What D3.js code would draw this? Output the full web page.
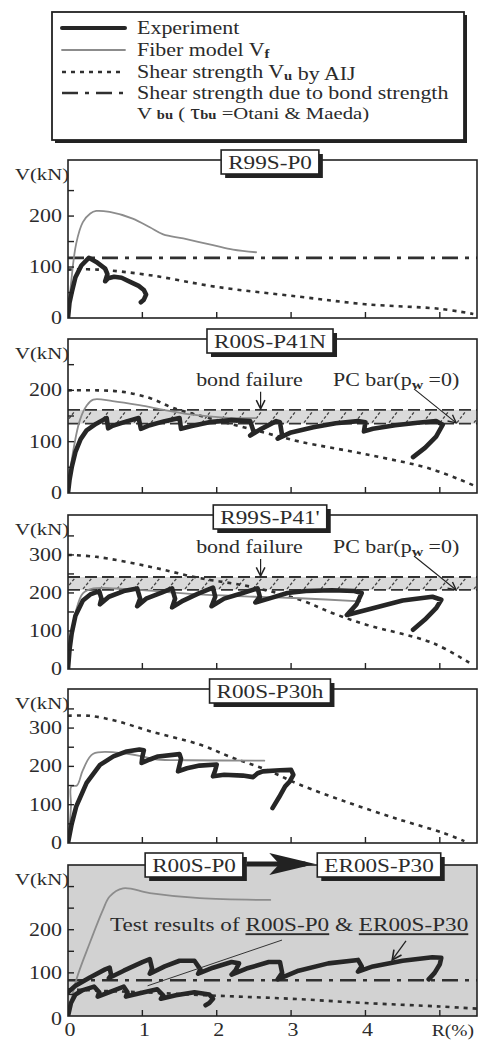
<!DOCTYPE html>
<html lang="en">
<head>
<meta charset="utf-8">
<title>Shear force - drift ratio</title>
<script src="https://cdn.jsdelivr.net/npm/d3@7"></script>
<style>
  body { margin: 0; background: #fff; }
  svg { display: block; }
  text { font-family: 'Liberation Serif', 'Times New Roman', serif; fill: #2b2b2b; }
</style>
</head>
<body>
<svg id="chart"></svg>
<script>
// ---- values: [R (%), V (kN)] ----
const rLabels = ['0', '1', '2', '3', '4', 'R(%)'];

// R99S-P0
const p1Exp   = [[0,0],[0.02,30],[0.05,50],[0.1,80],[0.18,103],[0.28,118],[0.38,110],[0.5,97],[0.53,86],[0.5,72],[0.54,78],[0.62,81],[0.72,79],[0.85,70],[0.95,63],[1.02,55],[1.05,46],[1.02,36],[0.98,31]];
const p1Fiber = [[0,0],[0.045,74],[0.11,146],[0.2,188],[0.3,205],[0.38,210],[0.56,208],[0.87,195],[1.1,178],[1.28,164],[1.55,156],[1.95,143],[2.22,134],[2.53,129]];
const p1Aij   = [[0,95],[0.4,95],[1.1,84],[2,61],[3.1,42],[4,27],[5,18],[5.45,8]];
const p1Bond  = [118];

// R00S-P41N
const p2Exp   = [[0,0],[0.02,25],[0.05,50],[0.1,80],[0.17,105],[0.25,122],[0.38,135],[0.52,146],[0.54,126],[0.6,131],[0.8,140],[0.95,146],[0.98,125],[1.1,132],[1.3,140],[1.5,146],[1.52,125],[1.65,130],[1.9,138],[2.2,142],[2.45,140],[2.5,118],[2.45,112],[2.6,125],[2.8,140],[2.85,138],[2.88,112],[2.82,106],[3.0,118],[3.3,128],[3.6,136],[3.9,140],[4.0,138],[3.98,120],[4.1,125],[4.4,132],[4.7,137],[4.95,140],[5.04,133],[4.95,110],[4.8,88],[4.64,70]];
const p2Fiber = [[0,0],[0.05,64],[0.16,142],[0.25,170],[0.34,182],[0.6,179],[0.96,171],[1.32,161],[1.7,152],[2.1,147],[2.53,146]];
const p2Aij   = [[0,200],[0.4,200],[0.74,197],[1.1,185],[1.41,166],[2,142],[2.68,116],[3.12,100],[4.02,75],[4.9,46],[5.5,12]];
const p2Band  = [135, 162];

// R99S-P41'
const p3Exp   = [[0,0],[0.02,50],[0.05,94],[0.1,140],[0.2,180],[0.3,196],[0.42,205],[0.45,185],[0.43,170],[0.55,190],[0.75,205],[0.93,212],[0.97,185],[0.93,165],[1.05,185],[1.25,200],[1.4,212],[1.44,185],[1.4,162],[1.55,180],[1.75,198],[1.95,214],[1.98,190],[1.93,165],[2.1,185],[2.35,200],[2.55,212],[2.58,190],[2.52,175],[2.7,185],[2.95,200],[3.2,205],[3.55,207],[3.85,205],[3.95,200],[3.88,170],[3.75,142],[4.1,160],[4.5,180],[4.9,190],[5.02,182],[4.95,160],[4.8,130],[4.64,103]];
const p3Fiber = [[0,0],[0.05,90],[0.11,155],[0.2,199],[0.34,212],[0.8,210],[1.3,203],[1.77,196],[2.5,190],[3.12,186],[3.93,178]];
const p3Aij   = [[0,300],[0.38,295],[1.1,269],[1.77,239],[2.44,217],[3.12,182],[3.57,146],[4.02,116],[4.91,68],[5.45,10]];
const p3Band  = [208, 242];

// R00S-P30h
const p4Exp   = [[0,0],[0.02,20],[0.05,50],[0.11,95],[0.25,157],[0.43,204],[0.61,226],[0.79,239],[0.96,244],[1.02,242],[1.0,225],[0.99,209],[1.1,218],[1.21,226],[1.5,232],[1.52,220],[1.48,187],[1.6,195],[1.77,202],[2.0,205],[1.98,190],[1.95,174],[2.1,178],[2.35,176],[2.49,172],[2.55,182],[2.62,187],[2.85,190],[3.0,191],[3.03,178],[2.98,160],[2.92,148],[2.84,120],[2.75,91]];
const p4Fiber = [[0,0],[0.04,95],[0.045,148],[0.12,150],[0.2,190],[0.34,233],[0.8,233],[1.0,226],[1.2,218],[1.6,216],[2.64,215]];
const p4Aij   = [[0,332],[0.29,332],[0.66,318],[1.1,292],[1.77,257],[2.22,222],[2.67,191],[3.12,152],[3.79,104],[4.46,61],[5.05,26],[5.33,5]];

// R00S-P0 -> ER00S-P30
const p5ExpR00S = [[0,0],[0.04,30],[0.1,50],[0.2,60],[0.35,68],[0.42,55],[0.4,45],[0.55,55],[0.75,68],[0.8,55],[0.78,45],[0.95,52],[1.2,62],[1.28,48],[1.25,40],[1.45,48],[1.7,55],[1.9,50],[1.95,40],[1.9,30],[1.85,25]];
const p5ExpER   = [[0,55],[0.1,70],[0.3,90],[0.5,108],[0.56,112],[0.58,95],[0.55,88],[0.75,105],[1.0,125],[1.1,132],[1.13,110],[1.1,98],[1.3,115],[1.5,128],[1.7,128],[1.78,108],[1.75,98],[1.95,112],[2.2,125],[2.3,122],[2.25,105],[2.2,96],[2.4,110],[2.7,125],[2.85,125],[2.88,100],[2.82,85],[3.1,105],[3.5,122],[3.9,130],[3.95,115],[3.9,103],[4.1,115],[4.5,128],[4.9,136],[5.02,135],[5.0,120],[4.93,100],[4.85,85]];
const p5Fiber = [[0,0],[0.11,83],[0.29,168],[0.47,246],[0.56,277],[0.74,296],[1.1,285],[1.77,273],[2.72,269]];
const p5Aij   = [[0,62],[0.5,58],[1,55],[2,47],[3,40],[4,30],[5,22],[5.5,17]];
const p5Bond  = [83];

// ---- layout ----
const W = 478, H = 1040;
const SX = 1.22;          // the scanned glyphs are wider than Times
const x = d3.scaleLinear().domain([0, 5.5]).range([68, 477]);

const panels = [
  { titles: ['R99S-P0'], top: 160, bottom: 318, ymax: 310, ylab: [0,100,200],
    exp: [p1Exp], fiber: p1Fiber, aij: p1Aij, bond: p1Bond },
  { titles: ['R00S-P41N'], top: 339, bottom: 493, ymax: 300, ylab: [0,100,200],
    exp: [p2Exp], fiber: p2Fiber, aij: p2Aij, band: p2Band, notes: true },
  { titles: ["R99S-P41'"], top: 515, bottom: 669, ymax: 405, ylab: [0,100,200,300],
    exp: [p3Exp], fiber: p3Fiber, aij: p3Aij, band: p3Band, notes: true },
  { titles: ['R00S-P30h'], top: 689, bottom: 843, ymax: 402, ylab: [0,100,200,300],
    exp: [p4Exp], fiber: p4Fiber, aij: p4Aij },
  { titles: ['R00S-P0', 'ER00S-P30'], top: 865, bottom: 1016, ymax: 350, ylab: [0,100,200],
    exp: [p5ExpR00S, p5ExpER], fiber: p5Fiber, aij: p5Aij, bond: p5Bond, shaded: true, last: true }
];

const svg = d3.select('#chart').attr('width', W).attr('height', H);
const defs = svg.append('defs');
defs.append('marker').attr('id', 'arrowOpen').attr('viewBox', '0 0 10 10')
  .attr('refX', 9).attr('refY', 5).attr('markerWidth', 9).attr('markerHeight', 9)
  .attr('orient', 'auto-start-reverse')
  .append('path').attr('d', 'M1,1 L9,5 L1,9').attr('fill', 'none')
  .attr('stroke', '#222').attr('stroke-width', 1.4);

const styles = {
  exp:   { stroke: '#262626', width: 4.6, dash: null },
  fiber: { stroke: '#8c8c8c', width: 1.8, dash: null },
  aij:   { stroke: '#303030', width: 2.6, dash: '4 5' },
  bond:  { stroke: '#303030', width: 2.6, dash: '16 7 4 7' }
};

function txt(parent, px, py, size, anchor) {
  return parent.append('text')
    .attr('transform', `translate(${px},${py}) scale(${SX},1)`)
    .attr('font-size', size)
    .attr('text-anchor', anchor || 'start');
}

function styled(sel, s) {
  return sel.attr('fill', 'none').attr('stroke', s.stroke).attr('stroke-width', s.width)
    .attr('stroke-dasharray', s.dash).attr('stroke-linejoin', 'round').attr('stroke-linecap', s.dash ? 'butt' : 'round');
}

// ---- legend ----
const leg = svg.append('g');
leg.append('rect').attr('x', 55).attr('y', 15).attr('width', 412).attr('height', 128).attr('fill', '#222');
leg.append('rect').attr('x', 52).attr('y', 12).attr('width', 412).attr('height', 128)
  .attr('fill', '#fff').attr('stroke', '#222').attr('stroke-width', 1.8);
const legRows = [
  { s: styles.exp,   y: 28, label: [['Experiment']] },
  { s: styles.fiber, y: 50, label: [['Fiber model V'], ['f', 'sub']] },
  { s: styles.aij,   y: 72, label: [['Shear strength V'], ['u', 'sub'], [' by AIJ']] },
  { s: styles.bond,  y: 93, label: [['Shear strength due to bond strength']] }
];
legRows.forEach(r => {
  styled(leg.append('line').attr('x1', 62).attr('x2', 125).attr('y1', r.y).attr('y2', r.y), r.s)
    .attr('stroke-width', r.s === styles.exp ? 4 : r.s.width);
  const t = txt(leg, 137, r.y + 6, 18);
  r.label.forEach(([s, k]) => {
    const sp = t.append('tspan').text(s);
    if (k === 'sub') sp.attr('font-size', 12).attr('font-weight', 'bold').attr('dy', 2);
  });
});
{
  const t = txt(leg, 137, 119, 17);
  t.append('tspan').text('V ');
  t.append('tspan').text('bu').attr('font-size', 12).attr('font-weight', 'bold');
  t.append('tspan').text(' ( ');
  t.append('tspan').text('τ').attr('font-size', 20);
  t.append('tspan').text('bu').attr('font-size', 12).attr('font-weight', 'bold');
  t.append('tspan').text(' =Otani & Maeda)');
}

// ---- panels ----
function titleBox(g, cx, top, label) {
  const t = txt(g, cx, top + 19, 19, 'middle').text(label);
  const w = t.node().getComputedTextLength() * SX + 14;
  const h = 24;
  g.insert('rect', () => t.node()).attr('x', cx - w / 2 + 4).attr('y', top + 4).attr('width', w).attr('height', h).attr('fill', '#222');
  g.insert('rect', () => t.node()).attr('x', cx - w / 2).attr('y', top).attr('width', w).attr('height', h)
    .attr('fill', '#fff').attr('stroke', '#222').attr('stroke-width', 1.6);
  return [cx - w / 2, cx + w / 2];
}

panels.forEach((p, i) => {
  const y = d3.scaleLinear().domain([0, p.ymax]).range([p.bottom, p.top]);
  const g = svg.append('g');
  const x0 = x.range()[0], x1 = x.range()[1];

  g.append('rect').attr('x', x0).attr('y', p.top).attr('width', x1 - x0).attr('height', p.bottom - p.top)
    .attr('fill', p.shaded ? '#d2d2d2' : '#fff');

  defs.append('clipPath').attr('id', 'clip' + i).append('rect')
    .attr('x', x0).attr('y', p.top).attr('width', x1 - x0).attr('height', p.bottom - p.top);
  const plot = g.append('g').attr('clip-path', `url(#clip${i})`);

  // bond-strength band (hatched)
  if (p.band) {
    const yl = y(p.band[0]), yh = y(p.band[1]);
    plot.append('rect').attr('x', x0).attr('y', yh).attr('width', x1 - x0).attr('height', yl - yh)
      .attr('fill', '#dadada');
    plot.selectAll('line.hatch').data(d3.range(x0 + 4, x1 + 10, 17)).join('line')
      .attr('class', 'hatch').attr('x1', d => d - 6).attr('x2', d => d + 3)
      .attr('y1', yl - 1).attr('y2', yh + 1)
      .attr('stroke', '#444').attr('stroke-width', 1.3).attr('stroke-dasharray', '3 2');
    p.band.forEach(v => styled(plot.append('line').attr('x1', x0).attr('x2', x1)
      .attr('y1', y(v)).attr('y2', y(v)), { stroke: '#333', width: 1.8, dash: '12 5' }));
  }

  const smooth = d3.line().x(d => x(d[0])).y(d => y(d[1])).curve(d3.curveCatmullRom.alpha(0.5));
  const sharp  = d3.line().x(d => x(d[0])).y(d => y(d[1]));

  if (p.bond) plot.selectAll('line.bond').data(p.bond).join('line').attr('class', 'bond')
    .attr('x1', x0).attr('x2', x1).attr('y1', d => y(d)).attr('y2', d => y(d))
    .call(s => styled(s, styles.bond));
  styled(plot.append('path').datum(p.aij).attr('d', smooth), styles.aij);
  styled(plot.append('path').datum(p.fiber).attr('d', smooth), styles.fiber);
  p.exp.forEach(e => styled(plot.append('path').datum(e).attr('d', sharp), styles.exp));

  // frame
  g.append('rect').attr('x', x0).attr('y', p.top).attr('width', x1 - x0).attr('height', p.bottom - p.top)
    .attr('fill', 'none').attr('stroke', '#222').attr('stroke-width', 1.6);

  // ticks
  g.selectAll('line.yt').data(d3.range(50, p.ymax - 20, 50)).join('line').attr('class', 'yt')
    .attr('x1', x0).attr('x2', x0 + 6).attr('y1', d => y(d)).attr('y2', d => y(d))
    .attr('stroke', '#222').attr('stroke-width', 1.4);
  g.selectAll('line.xt').data(d3.range(1, 6)).join('line').attr('class', 'xt')
    .attr('x1', d => x(d)).attr('x2', d => x(d)).attr('y1', p.bottom).attr('y2', p.bottom - 6)
    .attr('stroke', '#222').attr('stroke-width', 1.4);

  p.ylab.forEach(v => txt(g, 62, y(v) + (v === 0 && p.last ? 9 : 6), 18, 'end').text(v));
  txt(g, 15, p.top + 20, 17).text('V(kN)');

  if (p.last) {
    rLabels.forEach((l, k) => {
      if (k < 5) txt(g, x(k) + 2, p.bottom + 20, 18, 'middle').text(l);
      else txt(g, x(k) - 8, p.bottom + 20, 16).text(l);
    });
  }

  // titles
  if (p.titles.length === 1) {
    titleBox(g, 270, p.top - 10, p.titles[0]);
  } else {
    const a = titleBox(g, 194, p.top - 12, p.titles[0]);
    const b = titleBox(g, 379, p.top - 12, p.titles[1]);
    const ay = p.top - 1;
    g.append('line').attr('x1', a[1] + 4).attr('x2', b[0] - 12).attr('y1', ay).attr('y2', ay)
      .attr('stroke', '#222').attr('stroke-width', 5);
    g.append('path').attr('fill', '#222')
      .attr('d', `M${b[0] - 48},${ay - 11} L${b[0] - 2},${ay} L${b[0] - 48},${ay + 11} L${b[0] - 38},${ay} Z`);
  }

  // annotations
  if (p.notes) {
    const bandTop = y(p.band[1]);
    txt(g, x(2.44), bandTop - 24, 18, 'middle').text('bond failure');
    g.append('line').attr('x1', x(2.59)).attr('x2', x(2.59)).attr('y1', bandTop - 18).attr('y2', bandTop - 1)
      .attr('stroke', '#222').attr('stroke-width', 1.2).attr('marker-end', 'url(#arrowOpen)');
    const t = txt(g, 333, bandTop - 24, 18);
    t.append('tspan').text('PC bar(p');
    t.append('tspan').text('w').attr('font-size', 13).attr('font-weight', 'bold').attr('dy', 3);
    t.append('tspan').text(' =0)').attr('dy', -3);
    g.append('line').attr('x1', 414).attr('y1', bandTop - 21).attr('x2', x(5.22)).attr('y2', bandTop + 13)
      .attr('stroke', '#222').attr('stroke-width', 1.1).attr('marker-end', 'url(#arrowOpen)');
  }
  if (p.last) {
    const t = txt(g, 110, y(196), 19);
    t.append('tspan').text('Test results of ');
    t.append('tspan').text('R00S-P0').style('text-decoration', 'underline');
    t.append('tspan').text(' & ');
    t.append('tspan').text('ER00S-P30').style('text-decoration', 'underline');
    g.append('line').attr('x1', 282).attr('y1', y(176)).attr('x2', x(1.07)).attr('y2', y(70))
      .attr('stroke', '#333').attr('stroke-width', 1);
    g.append('line').attr('x1', 406).attr('y1', y(174)).attr('x2', x(4.36)).attr('y2', y(130))
      .attr('stroke', '#222').attr('stroke-width', 1.3).attr('marker-end', 'url(#arrowOpen)');
  }
});
</script>
</body>
</html>
